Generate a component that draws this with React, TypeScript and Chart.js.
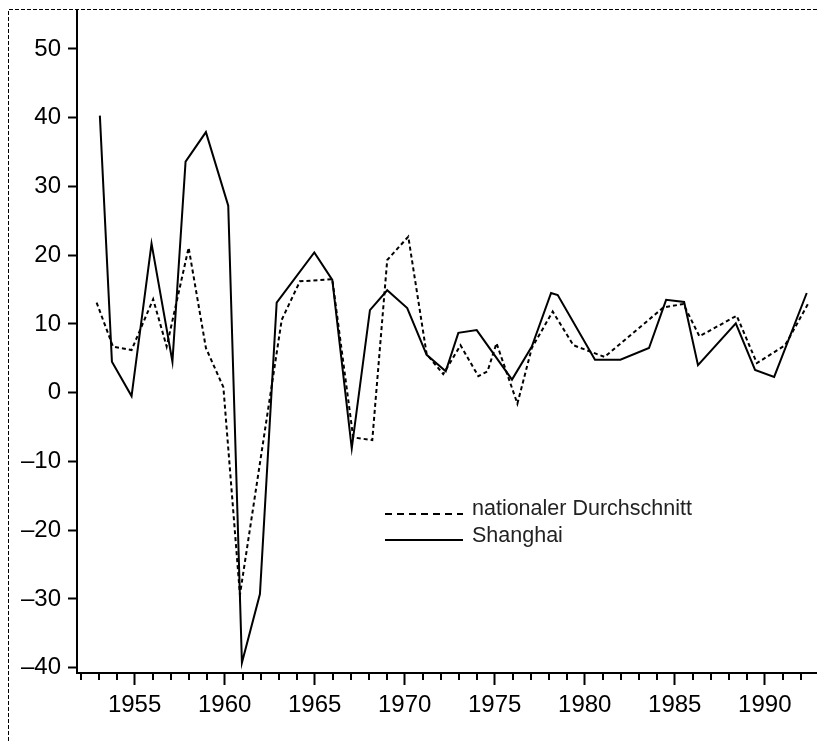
import React, { useEffect, useRef } from "react";
import { Chart, registerables } from "chart.js";

Chart.register(...registerables);

// Shanghai (solid line) — x positions
const shanghaiYears = [1953.07, 1953.74, 1954.83, 1955.94, 1957.1, 1957.83, 1958.96, 1960.2, 1960.96, 1961.96, 1962.89, 1964.98, 1965.98, 1967.06, 1968.07, 1969.03, 1970.14, 1971.22, 1972.28, 1972.98, 1974.0, 1975.96, 1977.06, 1978.13, 1978.5, 1980.57, 1981.98, 1983.57, 1984.52, 1985.52, 1986.29, 1988.39, 1989.46, 1990.52, 1992.33];
const shanghaiValues = [40.3, 4.5, -0.5, 21.7, 4.5, 33.6, 37.9, 27.2, -39.3, -29.3, 13.1, 20.4, 16.4, -8.1, 12.0, 14.9, 12.3, 5.5, 3.1, 8.7, 9.1, 1.9, 6.7, 14.5, 14.2, 4.8, 4.8, 6.5, 13.5, 13.2, 4.0, 10.1, 3.3, 2.3, 14.5];

// nationaler Durchschnitt (dashed line)
const nationalYears = [1952.89, 1953.8, 1954.83, 1956.03, 1956.78, 1958.0, 1958.96, 1959.93, 1960.85, 1963.17, 1964.18, 1965.98, 1967.14, 1968.2, 1969.03, 1970.2, 1971.22, 1972.14, 1973.1, 1974.09, 1974.6, 1975.1, 1976.26, 1977.06, 1978.22, 1979.37, 1981.1, 1984.37, 1985.48, 1986.37, 1988.44, 1989.56, 1991.13, 1992.42];
const nationalValues = [13.1, 6.7, 6.2, 13.6, 6.7, 21.1, 6.5, 0.8, -29.4, 10.6, 16.2, 16.5, -6.5, -6.9, 19.3, 22.7, 5.6, 2.7, 6.9, 2.4, 3.1, 7.2, -1.6, 6.5, 11.8, 6.9, 5.2, 12.4, 12.9, 8.2, 11.2, 4.3, 6.9, 13.0];

const seriesLabels = ["nationaler Durchschnitt", "Shanghai"];
const xMajorTicks = [1955, 1960, 1965, 1970, 1975, 1980, 1985, 1990];
const xMinorTicks = Array.from({ length: 41 }, (_, i) => 1952 + i);
const yTicks = [-40, -30, -20, -10, 0, 10, 20, 30, 40, 50];

const W = 817;
const H = 741;
const FONT = "'Liberation Sans', Arial, Helvetica, sans-serif";

const decorPlugin = {
  id: "decor",
  afterDraw(chart: any) {
    const ctx = chart.ctx;
    const xs = chart.scales.x;
    const area = chart.chartArea;
    ctx.save();
    // dashed outer frame (left + top)
    ctx.strokeStyle = "#000";
    ctx.lineWidth = 1;
    ctx.setLineDash([4, 2]);
    ctx.beginPath();
    ctx.moveTo(8.5, H);
    ctx.lineTo(8.5, 9.5);
    ctx.lineTo(W, 9.5);
    ctx.stroke();
    ctx.setLineDash([]);
    // minor x ticks
    ctx.lineWidth = 2;
    ctx.beginPath();
    for (const yr of xMinorTicks) {
      if (xMajorTicks.includes(yr)) continue;
      const px = Math.round(xs.getPixelForValue(yr));
      ctx.moveTo(px, area.bottom);
      ctx.lineTo(px, area.bottom + 7);
    }
    ctx.stroke();
    // legend
    const lx0 = 385;
    const lx1 = 463;
    ctx.font = `21.5px ${FONT}`;
    ctx.fillStyle = "#222";
    ctx.textBaseline = "alphabetic";
    ctx.textAlign = "left";
    ctx.lineWidth = 2;
    ctx.setLineDash([7, 5]);
    ctx.beginPath();
    ctx.moveTo(lx0, 514);
    ctx.lineTo(lx1, 514);
    ctx.stroke();
    ctx.setLineDash([]);
    ctx.beginPath();
    ctx.moveTo(lx0, 540);
    ctx.lineTo(lx1, 540);
    ctx.stroke();
    ctx.fillText(seriesLabels[0], 472, 515);
    ctx.fillText(seriesLabels[1], 472, 542);
    ctx.restore();
  },
};

export default function App() {
  const ref = useRef<HTMLCanvasElement | null>(null);
  useEffect(() => {
    if (!ref.current) return;
    const chart = new Chart(ref.current, {
      type: "line",
      data: {
        datasets: [
          {
            label: seriesLabels[0],
            data: nationalYears.map((x, i) => ({ x, y: nationalValues[i] })),
            borderColor: "#000",
            borderWidth: 2,
            borderDash: [4, 3],
            pointRadius: 0,
            tension: 0,
            fill: false,
          },
          {
            label: seriesLabels[1],
            data: shanghaiYears.map((x, i) => ({ x, y: shanghaiValues[i] })),
            borderColor: "#000",
            borderWidth: 2,
            pointRadius: 0,
            tension: 0,
            fill: false,
          },
        ],
      },
      options: {
        responsive: false,
        animation: false,
        devicePixelRatio: 1,
        layout: { padding: { left: 0, top: 10, right: 0, bottom: 0 } },
        plugins: { legend: { display: false }, tooltip: { enabled: false }, title: { display: false } },
        scales: {
          x: {
            type: "linear",
            min: 1951.8,
            max: 1992.9,
            afterFit: (s: any) => {
              s.height = 68;
              s.paddingLeft = 0;
              s.paddingRight = 0;
            },
            afterBuildTicks: (s: any) => {
              s.ticks = xMajorTicks.map((v) => ({ value: v }));
            },
            ticks: {
              autoSkip: false,
              maxRotation: 0,
              padding: 6,
              color: "#000",
              font: { family: FONT, size: 24 },
              callback: (v: any) => String(v),
            },
            grid: {
              drawOnChartArea: false,
              drawTicks: true,
              tickLength: 12,
              tickWidth: 2,
              tickColor: "#000",
            },
            border: { display: true, color: "#000", width: 2 },
          },
          y: {
            type: "linear",
            min: -40.78,
            max: 55.67,
            afterFit: (s: any) => {
              s.width = 77;
              s.paddingTop = 0;
              s.paddingBottom = 0;
            },
            afterBuildTicks: (s: any) => {
              s.ticks = yTicks.map((v) => ({ value: v }));
            },
            ticks: {
              padding: 7,
              color: "#000",
              font: { family: FONT, size: 24 },
              callback: (v: any) => (v < 0 ? "\u2013" + Math.abs(v) : String(v)),
            },
            grid: {
              drawOnChartArea: false,
              drawTicks: true,
              tickLength: 9,
              tickWidth: 2,
              tickColor: "#000",
            },
            border: { display: true, color: "#000", width: 2 },
          },
        },
      },
      plugins: [decorPlugin],
    });
    return () => chart.destroy();
  }, []);
  return (
    <div style={{ position: "absolute", left: 0, top: 0, width: W, height: H, background: "#fff" }}>
      <canvas ref={ref} width={W} height={H} style={{ display: "block", width: W, height: H }} />
    </div>
  );
}
